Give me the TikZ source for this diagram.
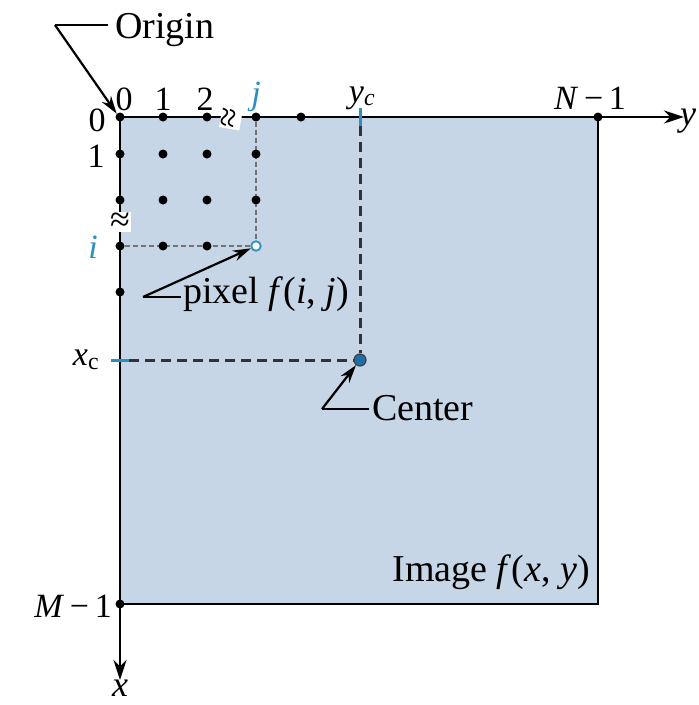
\documentclass[tikz,border=0pt]{standalone}
\usepackage{fontspec}
\setmainfont{Liberation Serif}
\usetikzlibrary{arrows.meta}
\definecolor{imgfill}{HTML}{C7D6E6}
\definecolor{cyanlbl}{HTML}{2B8FBF}
\definecolor{centerblue}{HTML}{1D6FA8}
\begin{document}
\begin{tikzpicture}[x=1pt,y=-1pt,
  dot/.style={circle,fill=black,inner sep=0pt,minimum size=9pt},
  lbl/.style={font=\fontsize{34}{38}\selectfont, inner sep=0pt},
  txt/.style={font=\fontsize{38}{42}\selectfont, inner sep=0pt},
  axisline/.style={line width=2.8pt, -{Stealth[length=20pt,width=13pt]}},
  callout/.style={line width=2.2pt},
  callarrow/.style={line width=2.2pt, -{Stealth[length=18pt,width=11pt]}},
  thindash/.style={line width=1.6pt, black!55, dash pattern=on 5pt off 3pt},
  thickdash/.style={line width=3pt, black!80, dash pattern=on 10pt off 6pt},
  brk/.style={fill=white, inner sep=1pt, font=\fontsize{36}{38}\selectfont},
  cyanlabel/.style={lbl, text=cyanlbl}]
\useasboundingbox (0,0) rectangle (699,705);
% image area
\fill[imgfill] (120,117) rectangle (598,604);
\draw[line width=2.4pt] (598,117) -- (598,604) -- (120,604);
% axes
\coordinate (O) at (120,117);
\coordinate (yend) at (684,117);
\coordinate (xend) at (120,680);
\draw[axisline] (O) -- (yend);
\draw[axisline] (O) -- (xend);
\node[lbl, font=\fontsize{36}{38}\selectfont\itshape] (ylab) at (688,121) {y};
\node[lbl, font=\fontsize{36}{38}\selectfont\itshape] (xlab) at (120,688) {x};
% centre guides
\node[circle, fill=centerblue, draw=black!75, line width=1.2pt, inner sep=0pt, minimum size=12pt] (center) at (360,360) {};
\coordinate (yctop) at (360,108);
\coordinate (ycbot) at (360,126);
\coordinate (xcleft) at (111,360);
\coordinate (xcright) at (129,360);
\draw[thickdash] (ycbot) -- (center);
\draw[thickdash] (xcright) -- (center);
\draw[line width=3pt, cyanlbl] (yctop) -- (ycbot);
\draw[line width=3pt, cyanlbl] (xcleft) -- (xcright);
% pixel grid
\node[dot] (d00) at (120,117) {};
\node[dot] (d01) at (163,117) {};
\node[dot] (d02) at (207,117) {};
\node[dot] (d0j) at (256,117) {};
\node[dot] (d0k) at (301,117) {};
\node[dot] (d0N) at (598,117) {};
\node[dot] (d10) at (120,154) {};
\node[dot] (d11) at (163,154) {};
\node[dot] (d12) at (207,154) {};
\node[dot] (d20) at (120,200) {};
\node[dot] (d21) at (163,200) {};
\node[dot] (d22) at (207,200) {};
\node[dot] (di0) at (120,246) {};
\node[dot] (dk0) at (120,292) {};
\node[dot] (dM0) at (120,604) {};
\node[circle, draw=cyanlbl, fill=white, line width=1.8pt, inner sep=0pt, minimum size=9.5pt] (pix) at (256,246) {};
\draw[thindash] (d0j.south) -- (pix.north);
\draw[thindash] (di0.east) -- (pix.west);
\node[dot] (d1j) at (256,154) {};
\node[dot] (d2j) at (256,200) {};
\node[dot] (di1) at (163,246) {};
\node[dot] (di2) at (207,246) {};
% breaks
\node[brk, rotate=80] (brktop) at (231,118) {≈};
\node[brk] (brkleft) at (120,222) {≈};
% top labels
\node[lbl] (t0) at (124,99) {0};
\node[lbl] (t1) at (163,99) {1};
\node[lbl] (t2) at (205,99) {2};
\node[cyanlabel, font=\fontsize{34}{38}\selectfont\itshape] (tj) at (256,97) {j};
\node[lbl] (tyc) at (362,98) {\textit{y}\textsubscript{\textit{c}}};
\node[lbl] (tN) at (590,98) {\textit{N}\,−\,1};
% left labels
\node[lbl] (l0) at (97,120) {0};
\node[lbl] (l1) at (96,156) {1};
\node[cyanlabel, font=\fontsize{34}{38}\selectfont\itshape] (li) at (93,247) {i};
\node[lbl] (lxc) at (86,360) {\textit{x}\textsubscript{c}};
\node[lbl, anchor=east] (lM) at (112,606) {\textit{M}\,−\,1};
% Origin callout
\node[txt, anchor=west] (origin) at (115,30) {Origin};
\coordinate (oc) at (55,25);
\coordinate (oe) at (108,25);
\draw[callout] (oe) -- (oc);
\draw[callarrow] (oc) -- (d00.north west);
% pixel callout
\node[txt, anchor=west] (pixtxt) at (183,294) {pixel \textit{f}(\textit{i}, \textit{j})};
\coordinate (pc) at (143,297);
\coordinate (pe) at (181,297);
\draw[callout] (pe) -- (pc);
\draw[callarrow] (pc) -- (pix);
% Center callout
\node[txt, anchor=west] (centxt) at (372,408) {Center};
\coordinate (cc) at (322,409);
\coordinate (ce) at (369,409);
\draw[callout] (ce) -- (cc);
\draw[callarrow] (cc) -- (center);
% image label
\node[txt, anchor=east] (imglab) at (590,572) {Image \textit{f}(\textit{x}, \textit{y})};
\end{tikzpicture}
\end{document}
